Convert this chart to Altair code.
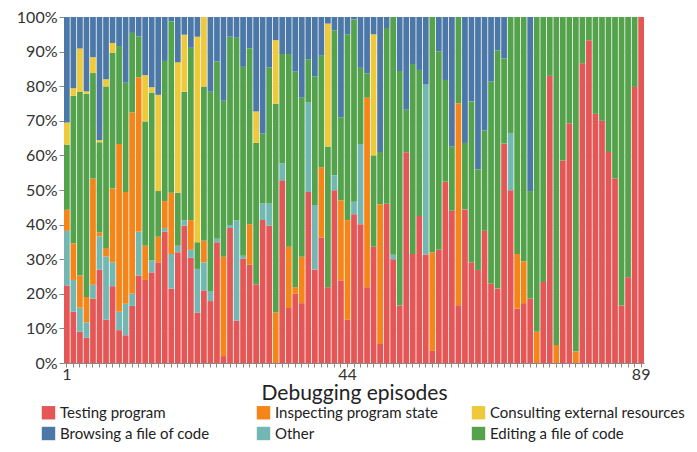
import altair as alt
import pandas as pd

episodes = list(range(1, 90))

activities = ["Testing program", "Other", "Inspecting program state",
              "Editing a file of code", "Consulting external resources",
              "Browsing a file of code"]

testing = [22.4, 14.8, 9.0, 7.3, 18.6, 27.0, 12.5, 22.2, 9.5, 8.0,
           16.5, 25.3, 24.0, 26.2, 29.1, 38.0, 21.5, 32.0, 39.7, 30.4,
           14.5, 21.0, 17.9, 34.9, 2.0, 39.0, 12.2, 30.1, 28.4, 22.7,
           41.3, 39.7, 0, 52.8, 15.9, 20.0, 17.3, 49.4, 27.0, 36.3,
           21.9, 49.9, 23.9, 12.5, 43.0, 40.1, 21.9, 33.6, 5.5, 46.0,
           30.0, 16.6, 60.9, 31.5, 42.5, 31.3, 3.5, 32.7, 52.4, 44.0,
           16.7, 44.4, 29.1, 26.9, 38.2, 22.9, 21.5, 63.4, 49.9, 15.7,
           17.3, 18.6, 0, 23.4, 83.0, 0, 58.5, 69.3, 0, 86.6,
           93.3, 72.0, 70.0, 61.0, 53.3, 16.6, 24.8, 79.8, 100]

other = [15.8, 9.2, 7.0, 4.4, 4.0, 9.6, 18.3, 6.9, 5.3, 9.1,
         3.5, 12.6, 0, 3.4, 0, 1.0, 10.0, 1.9, 1.6, 2.3,
         12.7, 8.1, 2.8, 1.0, 0, 0.9, 29.1, 0.9, 0, 0,
         4.8, 6.4, 0, 4.9, 0, 0, 0, 26.0, 18.7, 0,
         0, 4.4, 0, 0, 3.6, 23.2, 0, 0, 0, 0,
         1.3, 0, 0, 0, 0, 49.3, 0, 0, 0, 0,
         0, 0, 0, 0, 0, 0, 0, 0, 16.6, 0,
         0, 0, 0, 0, 0, 0, 0, 0, 0, 0,
         0, 0, 0, 0, 0, 0, 0, 0, 0]

inspecting = [6.1, 10.6, 9.3, 7.4, 30.7, 1.1, 2.4, 21.3, 48.5, 32.3,
              52.4, 44.7, 9.9, 0, 7.4, 7.8, 17.7, 0, 0, 8.6,
              0, 6.2, 0, 0, 28.7, 0, 0, 0, 11.7, 0,
              0, 0, 14.6, 0, 17.7, 1.9, 13.4, 0, 0, 20.3,
              0, 0, 23.1, 28.8, 0, 0, 54.8, 0, 40.4, 0,
              0, 0, 0, 0, 0, 0, 28.5, 0, 0, 0,
              58.4, 0, 0, 0, 0, 0, 0, 0, 0, 15.8,
              12.1, 0, 9.0, 0, 0, 5.2, 0, 0, 3.3, 0,
              0, 0, 0, 0, 0, 0, 0, 0, 0]

editing = [18.8, 42.6, 53.0, 58.7, 30.5, 26.1, 46.7, 39.3, 28.3, 31.6,
           23.0, 11.8, 35.9, 48.6, 13.2, 40.5, 49.6, 15.3, 37.1, 49.8,
           7.7, 44.6, 57.7, 51.2, 45.1, 54.4, 52.7, 54.6, 50.9, 40.9,
           20.2, 39.3, 60.3, 31.6, 55.7, 62.3, 46.0, 12.4, 37.1, 32.2,
           40.7, 41.9, 24.0, 53.7, 52.7, 22.0, 7.0, 26.4, 15.1, 50.8,
           68.7, 67.8, 12.3, 54.9, 42.2, 0, 68.0, 57.4, 29.4, 18.6,
           24.9, 19.2, 46.5, 29.0, 29.0, 58.4, 68.9, 24.6, 33.5, 68.5,
           70.6, 31.1, 91.0, 76.6, 17.0, 94.8, 41.5, 30.7, 96.7, 13.4,
           6.7, 28.0, 30.0, 39.0, 46.7, 83.4, 75.2, 20.2, 0]

consulting = [6.4, 2.2, 12.6, 0.7, 4.6, 0.6, 2.1, 2.8, 0, 0,
              0, 0, 13.4, 1.5, 27.8, 0, 0, 37.7, 16.5, 0,
              59.4, 20.1, 0, 0, 0, 0, 0, 0, 0, 9.1,
              0, 0, 18.4, 0, 0, 0, 0, 0, 0, 0,
              35.5, 0, 0, 0, 0, 0, 0, 35.0, 0, 0,
              0, 0, 0, 0, 0, 0, 0, 0, 0, 0,
              0, 0, 0, 0, 0, 0, 0, 0, 0, 0,
              0, 0, 0, 0, 0, 0, 0, 0, 0, 0,
              0, 0, 0, 0, 0, 0, 0, 0, 0]

browsing = [30.5, 20.6, 9.1, 21.5, 11.6, 35.6, 18.0, 7.5, 8.4, 19.0,
            4.6, 5.6, 16.8, 20.3, 22.5, 12.7, 1.2, 13.1, 5.1, 8.9,
            5.7, 0, 21.6, 12.9, 24.2, 5.7, 6.0, 14.4, 9.0, 27.3,
            33.7, 14.6, 6.7, 10.7, 10.7, 15.8, 23.3, 12.2, 17.2, 11.2,
            1.9, 3.8, 29.0, 5.0, 0.7, 14.7, 16.3, 5.0, 39.0, 3.2,
            0, 15.6, 26.8, 13.6, 15.3, 19.4, 0, 9.9, 18.2, 37.4,
            0, 36.4, 24.4, 44.1, 32.8, 18.7, 9.6, 12.0, 0, 0,
            0, 50.3, 0, 0, 0, 0, 0, 0, 0, 0,
            0, 0, 0, 0, 0, 0, 0, 0, 0]

legend_order = ["Testing program", "Inspecting program state",
                "Consulting external resources", "Browsing a file of code",
                "Other", "Editing a file of code"]
legend_colors = ["#e45756", "#f58518", "#eeca3b", "#4c78a8", "#72b7b2", "#54a24b"]
y_ticks = [0, 0.1, 0.2, 0.3, 0.4, 0.5, 0.6, 0.7, 0.8, 0.9, 1.0]

series = [testing, other, inspecting, editing, consulting, browsing]
rows = []
for k, (name, vals) in enumerate(zip(activities, series)):
    for ep, v in zip(episodes, vals):
        rows.append({"episode": ep, "activity": name, "value": v, "order": k})
df = pd.DataFrame(rows)

FONT = "Lato"

chart = alt.Chart(df).mark_bar().encode(
    x=alt.X("episode:O",
            scale=alt.Scale(paddingInner=0.12, paddingOuter=0),
            axis=alt.Axis(title="Debugging episodes", labelAngle=0,
                          labelExpr="datum.value == 1 || datum.value == 44 || datum.value == 89 ? datum.label : ''",
                          labelOverlap=False, tickSize=4, labelPadding=-1,
                          titlePadding=0)),
    y=alt.Y("value:Q", stack="normalize",
            axis=alt.Axis(title=None, format=".0%", values=y_ticks,
                          labelOverlap=False, tickSize=5)),
    color=alt.Color("activity:N",
                    scale=alt.Scale(domain=legend_order, range=legend_colors),
                    legend=alt.Legend(title=None, orient="none", legendX=-23, legendY=388,
                                      direction="horizontal", columns=3,
                                      gridAlign="all",
                                      symbolType="square", symbolSize=180,
                                      symbolStrokeWidth=0, columnPadding=1,
                                      labelOffset=4,
                                      rowPadding=5, labelFontSize=15, labelFont=FONT,
                                      labelColor="#222", labelLimit=300)),
    order=alt.Order("order:Q", sort="ascending"),
).properties(
    width=580, height=346,
    padding={"left": 8, "top": 1, "right": 0, "bottom": 0}
).configure_view(
    strokeWidth=0
).configure_axis(
    labelFont=FONT, titleFont=FONT, labelFontSize=16, titleFontSize=21,
    labelColor="#333", titleColor="#222", titleFontWeight="normal",
    gridColor="#ccc", gridOpacity=0.35, domainColor="#888", tickColor="#888",
    zindex=1
)

chart.save("out.html", embed_options={"renderer": "svg", "actions": False})
